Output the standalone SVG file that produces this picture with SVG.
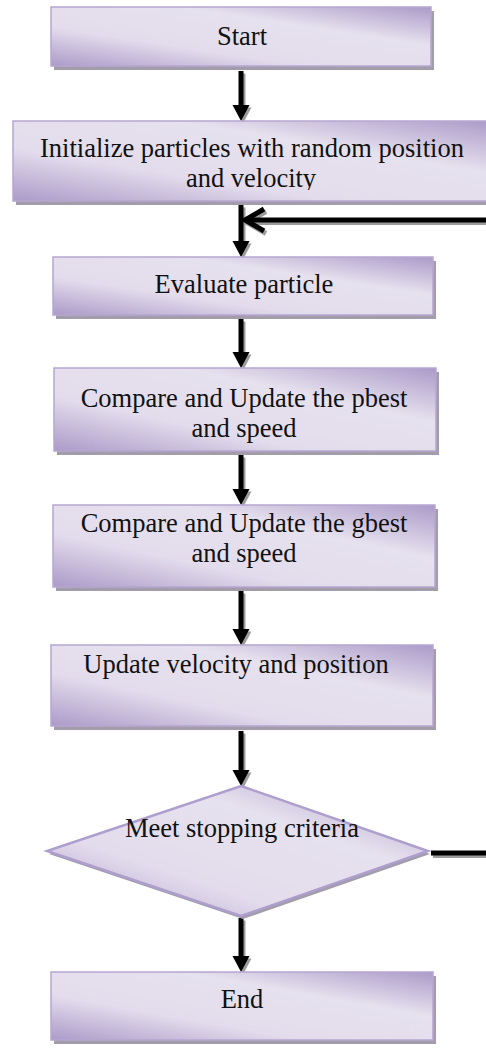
<svg xmlns="http://www.w3.org/2000/svg" width="486" height="1048" viewBox="0 0 486 1048">
<style>
.box{fill:url(#g);stroke:#b6a6d1;stroke-width:1.5}
.sh{fill:#a29cab}
.t{font-family:"Liberation Serif","Times New Roman",serif;font-size:26.5px;fill:#111;text-anchor:middle}
.c{fill:none;stroke:#000;stroke-width:5}
.cs{fill:none;stroke:#9c9c9c;stroke-width:5}
</style>
<defs>
<linearGradient id="g" x1="0" y1="1" x2="1" y2="0">
<stop offset="0" stop-color="#ab9ac8"/>
<stop offset="0.33" stop-color="#e3dcec"/>
<stop offset="0.67" stop-color="#e6e1ee"/>
<stop offset="1" stop-color="#ab9ac8"/>
</linearGradient>
<marker id="a" markerUnits="userSpaceOnUse" markerWidth="20" markerHeight="20" refX="0" refY="0" viewBox="-2 -10 20 20" orient="auto" overflow="visible">
<path d="M-1,-8.5 L15,0 L-1,8.5 Z" fill="#000"/>
</marker>
<marker id="as" markerUnits="userSpaceOnUse" markerWidth="20" markerHeight="20" refX="0" refY="0" viewBox="-2 -10 20 20" orient="auto" overflow="visible">
<path d="M-1,-8.5 L15,0 L-1,8.5 Z" fill="#9c9c9c"/>
</marker>
<marker id="v" markerUnits="userSpaceOnUse" markerWidth="30" markerHeight="30" refX="0" refY="0" viewBox="-25 -15 30 30" orient="auto" overflow="visible">
<path d="M-19,-11 L0,0 L-19,11" fill="none" stroke="#000" stroke-width="5"/>
</marker>
<marker id="vs" markerUnits="userSpaceOnUse" markerWidth="30" markerHeight="30" refX="0" refY="0" viewBox="-25 -15 30 30" orient="auto" overflow="visible">
<path d="M-19,-11 L0,0 L-19,11" fill="none" stroke="#9c9c9c" stroke-width="5"/>
</marker>
<clipPath id="clipInit"><rect x="0" y="121" width="486" height="69"/></clipPath>
</defs>

<g id="connectors">
<g transform="translate(2,2.5)">
<path class="cs" d="M241,71 V106" marker-end="url(#as)"/>
<path class="cs" d="M241,205 V242" marker-end="url(#as)"/>
<path class="cs" d="M241,319 V353" marker-end="url(#as)"/>
<path class="cs" d="M241,455 V490" marker-end="url(#as)"/>
<path class="cs" d="M241,591 V630" marker-end="url(#as)"/>
<path class="cs" d="M241,731 V771" marker-end="url(#as)"/>
<path class="cs" d="M241,918 V957" marker-end="url(#as)"/>
<path class="cs" d="M431,853 H494 V220 H245" marker-end="url(#vs)"/>
</g>
<path class="c" d="M241,71 V106" marker-end="url(#a)"/>
<path class="c" d="M241,205 V242" marker-end="url(#a)"/>
<path class="c" d="M241,319 V353" marker-end="url(#a)"/>
<path class="c" d="M241,455 V490" marker-end="url(#a)"/>
<path class="c" d="M241,591 V630" marker-end="url(#a)"/>
<path class="c" d="M241,731 V771" marker-end="url(#a)"/>
<path class="c" d="M241,918 V957" marker-end="url(#a)"/>
<path class="c" d="M431,853 H494 V220 H245" marker-end="url(#v)"/>
</g>

<g id="start">
<rect class="sh" x="54" y="11" width="380" height="59"/>
<rect class="box" x="51" y="7" width="380" height="59"/>
<text class="t" x="242" y="45">Start</text>
</g>

<g id="init">
<rect class="sh" x="16" y="125" width="480" height="80"/>
<rect class="box" x="13" y="121" width="480" height="80"/>
<g clip-path="url(#clipInit)">
<text class="t" x="252" y="157">Initialize particles with random position</text>
<text class="t" x="251" y="187">and velocity</text>
</g>
</g>

<g id="evaluate">
<rect class="sh" x="56" y="261" width="380" height="58"/>
<rect class="box" x="53" y="257" width="380" height="58"/>
<text class="t" x="244" y="293">Evaluate particle</text>
</g>

<g id="pbest">
<rect class="sh" x="57" y="372" width="382" height="83"/>
<rect class="box" x="54" y="368" width="382" height="83"/>
<text class="t" x="244" y="407">Compare and Update the pbest</text>
<text class="t" x="244" y="437">and speed</text>
</g>

<g id="gbest">
<rect class="sh" x="56" y="509" width="382" height="82"/>
<rect class="box" x="53" y="505" width="382" height="82"/>
<text class="t" x="244" y="532">Compare and Update the gbest</text>
<text class="t" x="244" y="562">and speed</text>
</g>

<g id="update">
<rect class="sh" x="54" y="649" width="382" height="81"/>
<rect class="box" x="51" y="645" width="382" height="81"/>
<text class="t" x="236" y="673">Update velocity and position</text>
</g>

<g id="decision">
<polygon points="243,789 430,854 243,919 49,854" fill="#a29cab"/>
<polygon points="241,786 428,851 241,916 47,851" fill="url(#g)" stroke="#ae9ecd" stroke-width="2.5"/>
<text class="t" x="242" y="837">Meet stopping criteria</text>
</g>

<g id="end">
<rect class="sh" x="54" y="976" width="382" height="68"/>
<rect class="box" x="51" y="972" width="382" height="68"/>
<text class="t" x="242" y="1008">End</text>
</g>
</svg>
